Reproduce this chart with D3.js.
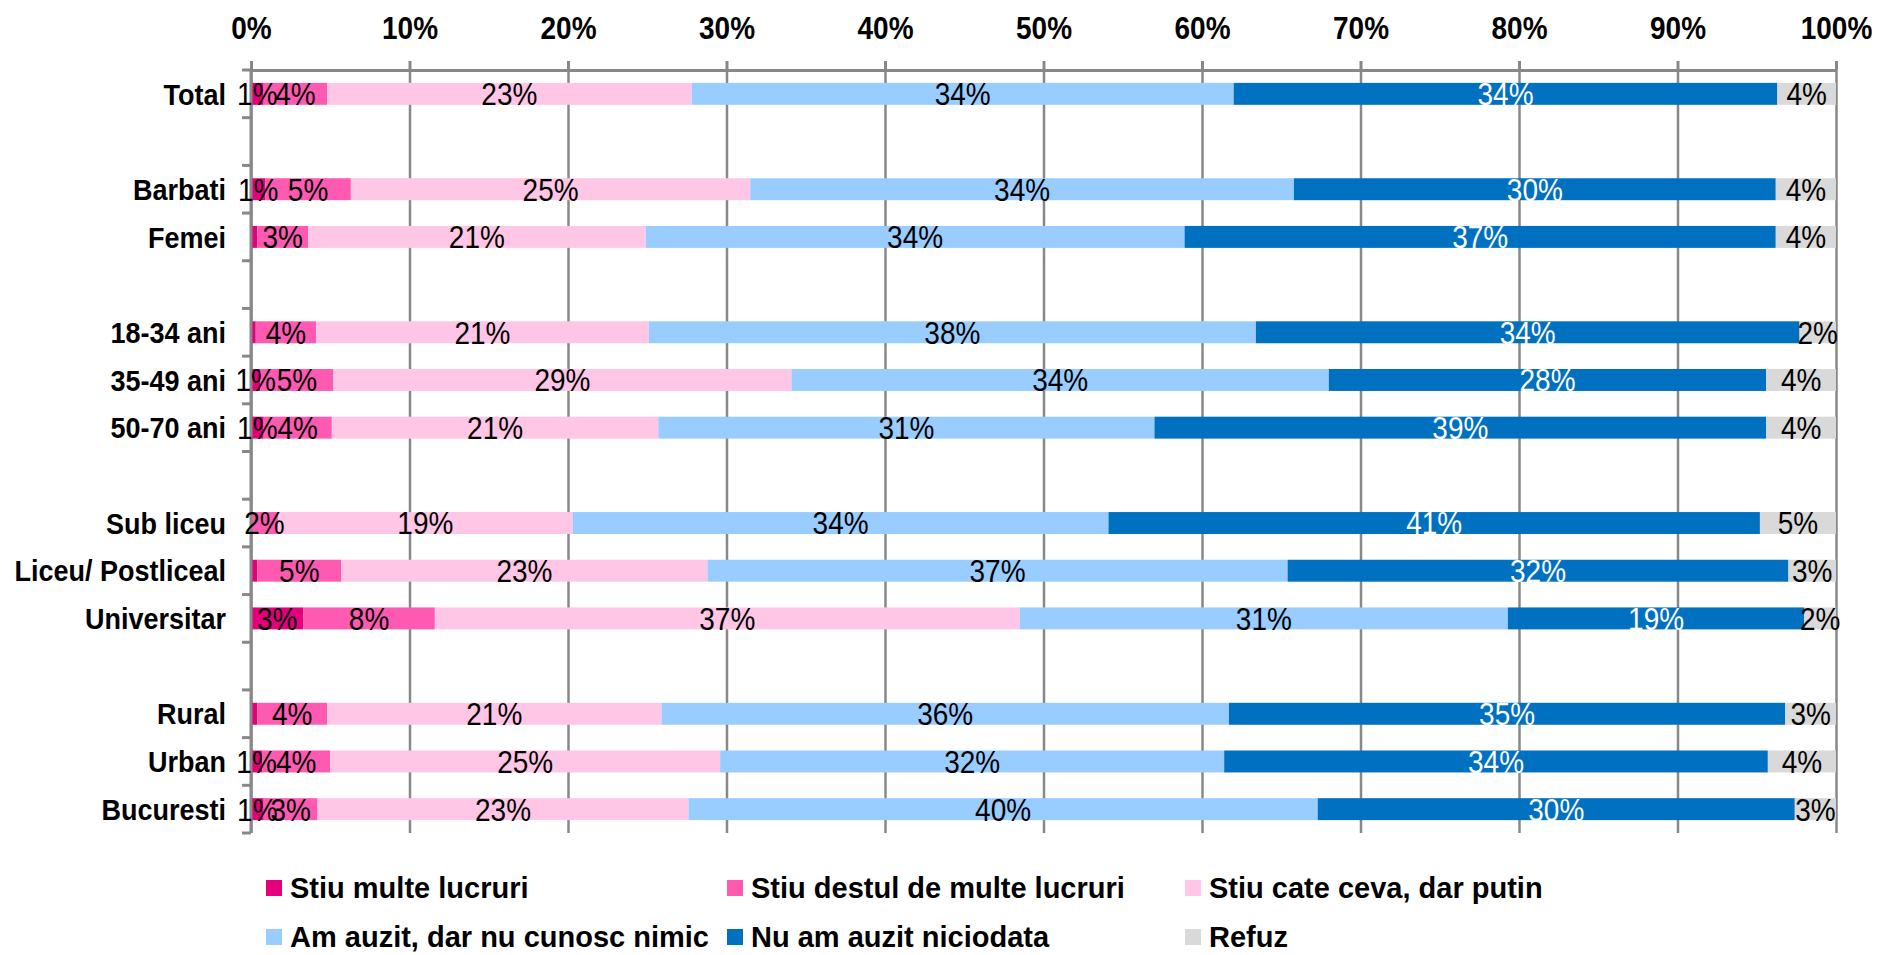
<!DOCTYPE html>
<html>
<head>
<meta charset="utf-8">
<script src="https://cdn.jsdelivr.net/npm/d3@7"></script>
<style>
  body { margin: 0; background: #fff; }
  svg { display: block; font-family: "Liberation Sans", Arial, sans-serif; }
  .grid line { stroke: #888; stroke-width: 2.5; }
  .grid path { display: none; }
  .x.axis path, .x.axis line { stroke: #888; stroke-width: 3; }
  .x.axis text { font-size: 28px; font-weight: bold; fill: #000; }
  .cat { font-size: 27px; font-weight: bold; fill: #000; }
  .lbl { font-size: 28px; }
  .legend text { font-size: 29px; font-weight: bold; fill: #000; }
</style>
</head>
<body>
<svg id="chart" width="1878" height="955"></svg>
<script>
'use strict';

// rows, null = empty spacer row
const categories = ["Total", null, "Barbati", "Femei", null, "18-34 ani", "35-49 ani", "50-70 ani", null,
    "Sub liceu", "Liceu/ Postliceal", "Universitar", null, "Rural", "Urban", "Bucuresti"];

const seriesNames = ["Stiu multe lucruri", "Stiu destul de multe lucruri", "Stiu cate ceva, dar putin",
    "Am auzit, dar nu cunosc nimic", "Nu am auzit niciodata", "Refuz"];
const seriesColors = ["#E4007C", "#FF5AB1", "#FFC6E5", "#99CCFF", "#0070C0", "#D9D9D9"];
const labelColors = ["#000", "#000", "#000", "#000", "#fff", "#000"];

// percent per row, in series order
const multe    = [0.8, 0.9, 0.4, 0.3, 0.6, 0.8, 0.0, 0.4, 3.3, 0.4, 0.7, 0.8];
const destul   = [4.0, 5.4, 3.2, 3.8, 4.6, 4.3, 1.7, 5.3, 8.3, 4.4, 4.3, 3.4];
const ceva     = [23.0, 25.2, 21.3, 21.0, 28.9, 20.6, 18.6, 23.1, 36.9, 21.1, 24.6, 23.4];
const amAuzit  = [34.2, 34.3, 34.0, 38.3, 33.9, 31.3, 33.8, 36.6, 30.8, 35.8, 31.8, 39.7];
const nuAuzit  = [34.3, 30.4, 37.3, 34.3, 27.6, 38.6, 41.1, 31.6, 18.7, 35.1, 34.3, 30.1];
const refuz    = [3.7, 3.8, 3.8, 2.3, 4.4, 4.4, 4.8, 3.0, 2.0, 3.2, 4.3, 2.6];

const xTicks = [0, 0.1, 0.2, 0.3, 0.4, 0.5, 0.6, 0.7, 0.8, 0.9, 1];

const svg = d3.select("#chart");
const margin = { top: 70, left: 251, right: 42, bottom: 122 };
const W = 1878, H = 955;
const x0 = margin.left, x1 = W - margin.right;
const y0 = margin.top, y1 = H - margin.bottom;
const stretch = 1.1; // text in the picture is a bit taller than wide

const xScale = d3.scaleLinear().domain([0, 1]).range([x0, x1]);
const yScale = d3.scaleBand()
    .domain(d3.range(categories.length))
    .range([y0, y1])
    .paddingInner(0.54)
    .paddingOuter(0.27);

// gridlines
svg.append("g")
    .attr("class", "grid")
    .attr("transform", "translate(0," + y0 + ")")
    .call(d3.axisBottom(xScale).tickValues(xTicks).tickSize(y1 - y0).tickFormat(""));

// build stacked rows
const values = [multe, destul, ceva, amAuzit, nuAuzit, refuz];
const rows = [];
let r = 0;
categories.forEach((c, i) => {
    if (c === null) return;
    let acc = 0;
    const segs = values.map((arr, s) => {
        const v = arr[r] / 100;
        const seg = { row: i, s: s, start: acc, end: acc + v, v: v };
        acc += v;
        return seg;
    });
    rows.push({ name: c, idx: i, segs: segs });
    r++;
});

const barH = yScale.bandwidth();
const rowG = svg.selectAll(".row")
    .data(rows)
    .enter()
    .append("g")
    .attr("class", "row");

rowG.selectAll("rect")
    .data(d => d.segs.filter(s => s.v > 0))
    .enter()
    .append("rect")
    .attr("x", d => xScale(d.start))
    .attr("width", d => xScale(d.end) - xScale(d.start))
    .attr("y", d => yScale(d.row))
    .attr("height", barH)
    .attr("fill", d => seriesColors[d.s]);

// axes
svg.append("g")
    .attr("class", "x axis")
    .attr("transform", "translate(0," + y0 + ")")
    .call(d3.axisTop(xScale).tickValues(xTicks).tickSizeInner(9).tickSizeOuter(0)
        .tickPadding(22).tickFormat(d3.format(".0%")))
    .selectAll(".tick text")
    .attr("transform", "translate(0,-31) scale(1," + stretch + ") translate(0,31)");

// left axis with ticks on the row boundaries
svg.append("line")
    .attr("x1", x0).attr("x2", x0)
    .attr("y1", y0).attr("y2", y1)
    .attr("stroke", "#888").attr("stroke-width", 3);
svg.selectAll(".ytick")
    .data(d3.range(categories.length + 1))
    .enter()
    .append("line")
    .attr("class", "ytick")
    .attr("x1", x0 - 9).attr("x2", x0)
    .attr("y1", d => y0 + d * yScale.step())
    .attr("y2", d => y0 + d * yScale.step())
    .attr("stroke", "#888").attr("stroke-width", 3);

svg.selectAll(".cat")
    .data(rows)
    .enter()
    .append("text")
    .attr("class", "cat")
    .attr("transform", d => "translate(226," + (yScale(d.idx) + barH / 2) + ") scale(1," + stretch + ")")
    .attr("dy", "0.36em")
    .attr("text-anchor", "end")
    .text(d => d.name);

// data labels on top of everything
const fmt = d3.format(".0%");
svg.selectAll(".lblrow")
    .data(rows)
    .enter()
    .append("g")
    .selectAll("text")
    .data(d => d.segs.filter(s => Math.round(s.v * 100) >= 1))
    .enter()
    .append("text")
    .attr("class", "lbl")
    .attr("transform", d => "translate(" + xScale((d.start + d.end) / 2) + "," +
        (yScale(d.row) + barH / 2) + ") scale(1," + stretch + ")")
    .attr("dy", "0.37em")
    .attr("text-anchor", "middle")
    .attr("fill", d => labelColors[d.s])
    .text(d => fmt(d.v));

// legend
const legendX = [266, 727, 1185];
const legendY = [888, 937];
const legend = svg.append("g").attr("class", "legend");
const items = legend.selectAll("g")
    .data(seriesNames)
    .enter()
    .append("g")
    .attr("transform", (d, i) => "translate(" + legendX[i % 3] + "," + legendY[Math.floor(i / 3)] + ")");
items.append("rect")
    .attr("x", 0).attr("y", -8)
    .attr("width", 16).attr("height", 16)
    .attr("fill", (d, i) => seriesColors[i]);
items.append("text")
    .attr("x", 24)
    .attr("dy", "0.36em")
    .text(d => d);
</script>
</body>
</html>
